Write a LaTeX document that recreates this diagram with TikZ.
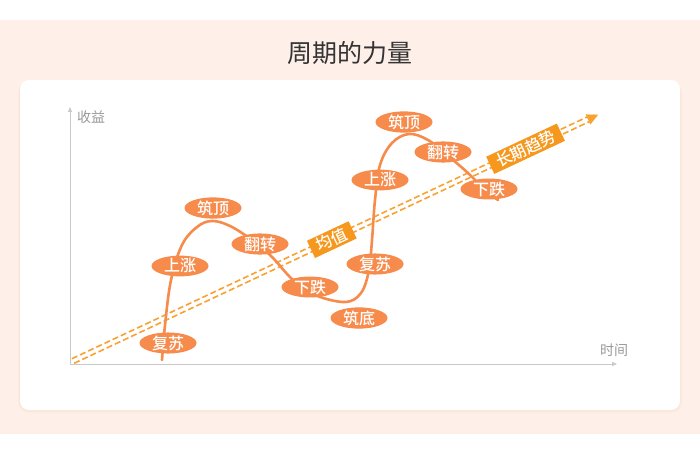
\documentclass[tikz,border=0pt]{standalone}
\usepackage{fontspec}
\newfontfamily\cjk{Noto Sans CJK SC}
\newfontfamily\cjkm{Noto Sans CJK SC Medium}
\usetikzlibrary{shapes.geometric,arrows.meta}
\definecolor{peach}{HTML}{FEF0E8}
\definecolor{shadowc}{HTML}{F9D9C8}
\definecolor{coral}{HTML}{F68B4B}
\definecolor{trendc}{HTML}{F9A232}
\definecolor{boxc}{HTML}{F7981E}
\definecolor{axisc}{HTML}{C9C9C9}
\definecolor{axtext}{HTML}{999999}
\definecolor{titlec}{HTML}{333333}
\tikzset{
  phase/.style={ellipse, fill=coral, text=white, minimum width=57pt, minimum height=19pt, inner sep=0pt, font=\cjkm\fontsize{16}{16}\selectfont},
  tagbox/.style={fill=boxc, text=white, inner sep=0pt, minimum height=19pt, font=\cjkm\fontsize{16}{16}\selectfont, sloped},
  trend/.style={trendc, line width=1.6pt, dash pattern=on 6pt off 3pt},
  axisline/.style={axisc, line width=1pt},
  axislabel/.style={text=axtext, font=\cjk\fontsize{14}{14}\selectfont, inner sep=0pt},
  cycle/.style={coral, line width=2.6pt, line cap=round}
}
\begin{document}
\begin{tikzpicture}[x=1pt,y=-1pt]
\useasboundingbox (0,0) rectangle (700,457);
\fill[white] (0,0) rectangle (700,457);
\fill[peach] (0,20) rectangle (700,434);
% card shadow
\foreach \o/\c in {4/10,3/15,2/22,1/30}{
  \fill[shadowc, opacity=0.\c, rounded corners=10pt] (20-\o*0.5,80+2) rectangle (680+\o*0.5,409+\o);
}
\fill[white, rounded corners=9pt] (20,80) rectangle (680,410);
% title
\node[text=titlec, font=\cjk\fontsize{25}{25}\selectfont] (title) at (350,53) {周期的力量};
% axes
\coordinate (o) at (70,364);
\coordinate (ytop) at (70,107);
\coordinate (xend) at (617,364);
\draw[axisline, -{Triangle[length=5pt,width=4pt]}] (o) -- (ytop);
\draw[axisline, -{Triangle[length=5pt,width=4pt]}] (o) -- (xend);
\node[axislabel] (ylab) at (91,117) {收益};
\node[axislabel] (xlab) at (614,350) {时间};
% trend line (double dashed)
\coordinate (ts) at (73,361);
\coordinate (te) at (590,118.5);
\coordinate (tip) at (598,114.8);
\draw[trend] ([shift={(1.1,2.3)}]ts) -- ([shift={(1.1,2.3)}]te);
\draw[trend] ([shift={(-1.1,-2.3)}]ts) -- ([shift={(-1.1,-2.3)}]te);
\draw[trendc, line width=0.1pt, -{Triangle[length=11pt,width=11pt]}] (te) -- (tip);
% cycle curve
\draw[cycle] plot[smooth, tension=0.6] coordinates {
 (162,360) (165,325) (171,280) (182,245) (197,227) (212,221) (230,226)
 (252,240) (272,257) (293,280) (315,295) (345,302) (361,293) (369,270)
 (372,240) (375,200) (380,165) (392,143) (409,134) (428,140) (447,155)
 (468,173) (485,190) (498,200)};
% tags on trend line
\path (ts) -- (tip) node[tagbox, pos=0.493, minimum width=46pt] (mean) {均值}
                   node[tagbox, pos=0.862, minimum width=78pt] (longterm) {长期趋势};
% phase labels
\node[phase] (fs1) at (168,343) {复苏};
\node[phase] (sz1) at (180,266) {上涨};
\node[phase] (zd1) at (213,208) {筑顶};
\node[phase] (fz1) at (260,244) {翻转};
\node[phase] (xd1) at (310,287) {下跌};
\node[phase] (zdi) at (359,318) {筑底};
\node[phase] (fs2) at (375,264) {复苏};
\node[phase] (sz2) at (380,180) {上涨};
\node[phase] (zd2) at (404,122) {筑顶};
\node[phase] (fz2) at (443,152) {翻转};
\node[phase] (xd2) at (489,189) {下跌};
\end{tikzpicture}
\end{document}
